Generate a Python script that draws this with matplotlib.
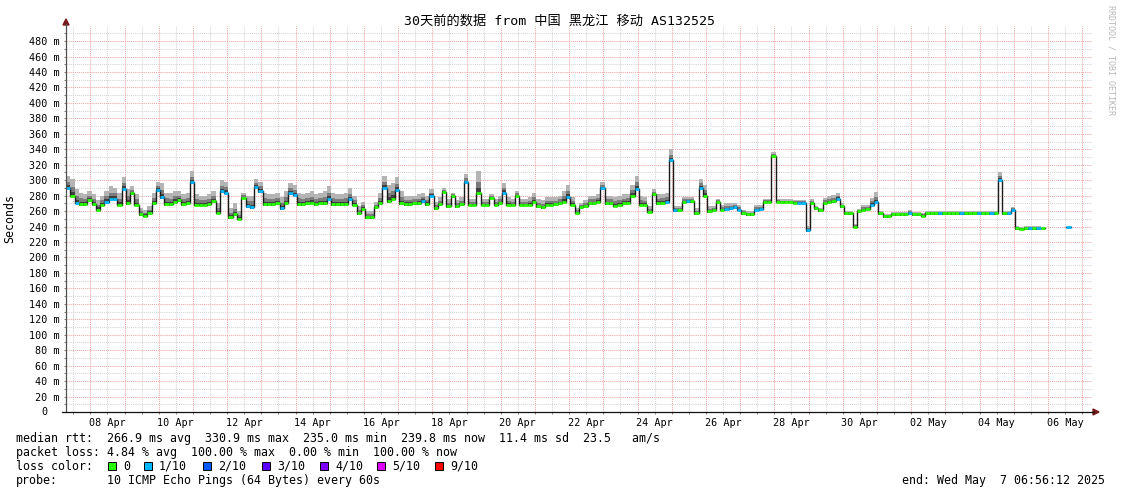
import numpy as np
import pandas as pd
import matplotlib
matplotlib.use('Agg')
import matplotlib.pyplot as plt
import matplotlib.dates as mdates
from matplotlib.patches import Rectangle, Polygon
from matplotlib.lines import Line2D

plt.rcParams['font.family'] = ['DejaVu Sans Mono', 'Noto Sans CJK SC']

W, H = 1121, 494

title = '30天前的数据 from 中国 黑龙江 移动 AS132525'
start = '2025-04-07 06:56:12'
end_text = 'end: Wed May  7 06:56:12 2025'

# median rtt, one value per 3 hours from the start (ms), nan = no data
median_ms = [
    290, 280, 271, 269, 269, 274, 269, 262, 268, 272,
    276, 276, 268, 289, 270, 283, 268, 256, 254, 258,
    270, 287, 278, 269, 269, 272, 274, 269, 270, 297,
    268, 268, 268, 269, 273, 258, 286, 284, 252, 256,
    250, 277, 266, 265, 291, 286, 269, 269, 269, 270,
    264, 270, 283, 281, 269, 269, 270, 271, 269, 270,
    270, 276, 269, 269, 269, 269, 275, 268, 257, 263,
    252, 252, 265, 270, 290, 273, 276, 287, 270, 269,
    269, 270, 270, 273, 269, 280, 264, 269, 285, 266,
    279, 266, 269, 297, 268, 268, 283, 268, 268, 277,
    268, 270, 284, 268, 268, 280, 268, 268, 268, 272,
    266, 265, 268, 268, 269, 270, 272, 278, 268, 258,
    265, 266, 270, 270, 272, 290, 270, 270, 267, 268,
    270, 271, 280, 289, 268, 268, 259, 282, 270, 271,
    272, 326, 261, 261, 272, 273, 273, 257, 290, 280,
    260, 261, 272, 262, 263, 264, 265, 262, 257, 256,
    256, 262, 263, 272, 272, 331, 272, 272, 272, 272,
    271, 271, 271, 235, 271, 264, 261, 271, 272, 273,
    276, 266, 257, 257, 240, 260, 262, 263, 268, 272,
    257, 253, 253, 256, 256, 256, 256, 258, 256, 256,
    254, 257, 257, 257, 257, 257, 257, 257, 257, 257,
    257, 257, 257, 257, 257, 257, 257, 257, 300, 257,
    257, 262, 238, 237, 238, 238, 238, 238, 238, np.nan,
    np.nan, np.nan, np.nan, np.nan, 240, np.nan, np.nan, np.nan, np.nan, np.nan,
]

# upper edge of the smoke (ms)
smoke_top_ms = [
    306, 302, 288, 284, 282, 286, 282, 274, 280, 286,
    292, 290, 284, 304, 288, 292, 282, 264, 262, 266,
    284, 298, 296, 284, 283, 286, 286, 282, 284, 312,
    282, 280, 280, 282, 286, 270, 300, 298, 264, 270,
    260, 284, 280, 280, 302, 298, 284, 282, 282, 284,
    278, 286, 296, 294, 284, 282, 284, 286, 282, 284,
    286, 292, 284, 282, 282, 284, 290, 280, 266, 272,
    260, 260, 272, 284, 306, 294, 296, 304, 286, 280,
    280, 280, 282, 284, 280, 288, 272, 278, 290, 276,
    284, 274, 278, 308, 276, 276, 312, 276, 276, 282,
    276, 280, 296, 278, 276, 286, 276, 276, 278, 284,
    276, 274, 278, 278, 278, 280, 286, 294, 278, 264,
    270, 274, 280, 280, 282, 298, 280, 280, 278, 280,
    282, 282, 294, 305, 280, 278, 266, 288, 282, 282,
    284, 340, 266, 266, 278, 278, 278, 264, 302, 294,
    266, 266, 276, 268, 270, 270, 270, 268, 262, 260,
    260, 268, 268, 276, 276, 336, 276, 275, 275, 275,
    274, 274, 274, 241, 275, 267, 264, 277, 279, 281,
    284, 270, 260, 260, 243, 263, 268, 268, 277, 285,
    260, 256, 256, 259, 259, 259, 259, 262, 259, 259,
    258, 260, 260, 260, 260, 260, 260, 260, 260, 260,
    260, 260, 260, 260, 260, 260, 260, 260, 311, 260,
    260, 265, 241, 240, 241, 241, 241, 241, 241, np.nan,
    np.nan, np.nan, np.nan, np.nan, 246, np.nan, np.nan, np.nan, np.nan, np.nan,
]

# packet loss per step, in tenths
loss_tenths = [
    1, 0, 1, 0, 0, 0, 0, 0, 0, 1,
    1, 1, 0, 1, 0, 0, 0, 0, 0, 0,
    0, 1, 1, 0, 0, 0, 0, 0, 0, 1,
    0, 0, 0, 0, 0, 0, 1, 1, 0, 0,
    0, 0, 1, 1, 1, 1, 0, 0, 0, 0,
    1, 0, 1, 1, 0, 0, 0, 0, 0, 0,
    0, 1, 0, 0, 0, 0, 1, 0, 0, 0,
    0, 0, 0, 0, 1, 0, 0, 1, 0, 0,
    0, 0, 0, 1, 0, 1, 0, 0, 0, 0,
    0, 0, 0, 1, 0, 0, 0, 0, 0, 0,
    0, 0, 1, 0, 0, 0, 0, 0, 0, 0,
    0, 0, 0, 0, 0, 0, 0, 1, 0, 0,
    0, 0, 0, 0, 0, 1, 0, 0, 0, 0,
    0, 0, 0, 1, 0, 0, 0, 0, 0, 0,
    1, 1, 1, 0, 0, 1, 0, 0, 1, 0,
    0, 0, 0, 0, 1, 1, 1, 1, 0, 0,
    0, 1, 1, 0, 0, 0, 0, 0, 0, 0,
    0, 1, 1, 1, 0, 0, 0, 0, 0, 0,
    1, 0, 0, 0, 0, 0, 0, 0, 1, 1,
    0, 0, 0, 0, 0, 0, 0, 1, 0, 0,
    0, 0, 0, 0, 1, 0, 0, 0, 0, 1,
    0, 0, 0, 1, 0, 0, 1, 0, 1, 0,
    1, 1, 0, 0, 0, 1, 0, 1, 0, 0,
    0, 0, 0, 0, 1, 0, 0, 0, 0, 0,
]

loss_labels = ['0', '1/10', '2/10', '3/10', '4/10', '5/10', '9/10']
loss_tenth_keys = [0, 1, 2, 3, 4, 5, 9]
loss_colors = ['#26ff00', '#00b8ff', '#0059ff', '#5e00ff', '#7e00ff', '#dd00ff', '#ff0000']

day_labels = ['08 Apr', '10 Apr', '12 Apr', '14 Apr', '16 Apr', '18 Apr', '20 Apr', '22 Apr',
              '24 Apr', '26 Apr', '28 Apr', '30 Apr', '02 May', '04 May', '06 May']

rtt_stats = [266.9, 330.9, 235.0, 239.8]   # avg max min now
rtt_sd = 11.4
rtt_ams = 23.5
loss_stats = [4.84, 100.00, 0.00, 100.00]
probe_text = '10 ICMP Echo Pings (64 Bytes) every 60s'


def fx(x):
    return x / W


def fy(y):
    return 1 - y / H


med = np.array(median_ms, dtype=float)
top = np.array(smoke_top_ms, dtype=float)
loss = np.array(loss_tenths)

edges = pd.date_range(start, periods=len(med) + 1, freq='3h')
t = mdates.date2num(edges.to_pydatetime())

fig = plt.figure(figsize=(W / 100, H / 100), dpi=100)
fig.patch.set_facecolor('white')
ax = fig.add_axes([fx(66), fy(412), 1026 / W, 386.4 / H])
ax.set_xlim(t[0], t[-1])
ax.set_ylim(0, 500)
for s in ax.spines.values():
    s.set_visible(False)

# grid: gray at noon / odd tens, red at midnight / every 20
midnights = mdates.date2num(pd.date_range('2025-04-08', '2025-05-07', freq='D').to_pydatetime())
noons = mdates.date2num(pd.date_range('2025-04-07 12:00', '2025-05-06 12:00', freq='D').to_pydatetime())
dots = (0, (1, 1))
for x in noons:
    ax.axvline(x, color='#d4d4d4', lw=0.75, ls=dots, zorder=0)
for v in range(10, 500, 20):
    ax.axhline(v, color='#d4d4d4', lw=0.75, ls=dots, zorder=0)
for x in midnights:
    ax.axvline(x, color='#f2a6a6', lw=0.75, ls=dots, zorder=0)
for v in range(20, 500, 20):
    ax.axhline(v, color='#f2a6a6', lw=0.75, ls=dots, zorder=0)

# smoke
lo = med - 2
y_top = np.append(top, top[-1])
y_lo = np.append(lo, lo[-1])
y_mid = np.append(med + 0.5 * (top - med), med[-1])
y_core = np.append(med + 0.22 * (top - med), med[-1])
ax.fill_between(t, y_lo, y_top, step='post', color='#b4b4b4', lw=0, zorder=2)
ax.fill_between(t, y_lo, y_mid, step='post', color='#7c7c7c', lw=0, zorder=2)
ax.fill_between(t, y_lo, y_core, step='post', color='#404040', lw=0, zorder=2)

# median line: black risers, coloured by loss
ax.step(t, np.append(med, med[-1]), where='post', color='#1a1a1a', lw=1.0, zorder=3)
color_of = dict(zip(loss_tenth_keys, loss_colors))
ok = ~np.isnan(med)
ax.hlines(med[ok], t[:-1][ok], t[1:][ok], colors=[color_of[l] for l in loss[ok]], lw=2.0, zorder=4)

# ticks
ax.set_yticks(range(20, 500, 20))
ax.set_yticklabels([f'{v} m' for v in range(20, 500, 20)])
ax.set_yticks(range(0, 500, 10), minor=True)
label_pos = mdates.date2num(pd.date_range('2025-04-08 12:00', periods=len(day_labels), freq='2D').to_pydatetime())
ax.set_xticks(label_pos)
ax.set_xticklabels(day_labels)
ax.set_xticks(np.concatenate([midnights, noons]), minor=True)
ax.tick_params(which='both', length=1.5, width=0.7, color='#808080', labelsize=7.3)
ax.tick_params(axis='y', which='major', pad=3)
ax.tick_params(axis='x', which='major', pad=2.5)
fig.text(fx(44), fy(412), '0', ha='center', va='center', fontsize=7.3)

# axes with arrows
fig.add_artist(Line2D([fx(66), fx(66)], [fy(412), fy(24)], color='#505050', lw=0.9))
fig.add_artist(Line2D([fx(62), fx(1094)], [fy(412), fy(412)], color='#101010', lw=0.9))
fig.add_artist(Polygon([(fx(63), fy(25)), (fx(69), fy(25)), (fx(66), fy(19))], closed=True,
                       color='#7a1a1a', transform=fig.transFigure))
fig.add_artist(Polygon([(fx(1093), fy(409)), (fx(1093), fy(415)), (fx(1099), fy(412))], closed=True,
                       color='#7a1a1a', transform=fig.transFigure))

# texts
fig.text(fx(560), fy(21), title, ha='center', va='center', fontsize=9.5)
fig.text(fx(10), fy(218), 'Seconds', rotation=90, ha='center', va='center', fontsize=8.4)
fig.text(fx(1111), fy(60), 'RRDTOOL / TOBI OETIKER', rotation=270, ha='center', va='center',
         fontsize=6, color='#b8b8b8')

row1 = ('median rtt:  {:.1f} ms avg  {:.1f} ms max  {:.1f} ms min  {:.1f} ms now  '
        '{:.1f} ms sd  {:.1f}   am/s').format(*rtt_stats, rtt_sd, rtt_ams)
row2 = 'packet loss: {:.2f} % avg  {:.2f} % max  {:.2f} % min  {:.2f} % now'.format(*loss_stats)
fig.text(fx(16), fy(438), row1, ha='left', va='center', fontsize=8.4)
fig.text(fx(16), fy(452), row2, ha='left', va='center', fontsize=8.4)
fig.text(fx(16), fy(466), 'loss color:', ha='left', va='center', fontsize=8.4)
box_x = [108, 144, 203, 262, 320, 377, 435]
for bx, lab, col in zip(box_x, loss_labels, loss_colors):
    fig.add_artist(Rectangle((fx(bx), fy(470)), 8 / W, 8 / H, facecolor=col, edgecolor='black',
                             lw=0.7, transform=fig.transFigure))
    fig.text(fx(bx + 15), fy(466), lab, ha='left', va='center', fontsize=8.4)
fig.text(fx(16), fy(480), 'probe:', ha='left', va='center', fontsize=8.4)
fig.text(fx(107), fy(480), probe_text, ha='left', va='center', fontsize=8.4)
fig.text(fx(1105), fy(480), end_text, ha='right', va='center', fontsize=8.4)

fig.savefig('out.png', dpi=100, facecolor='white')
